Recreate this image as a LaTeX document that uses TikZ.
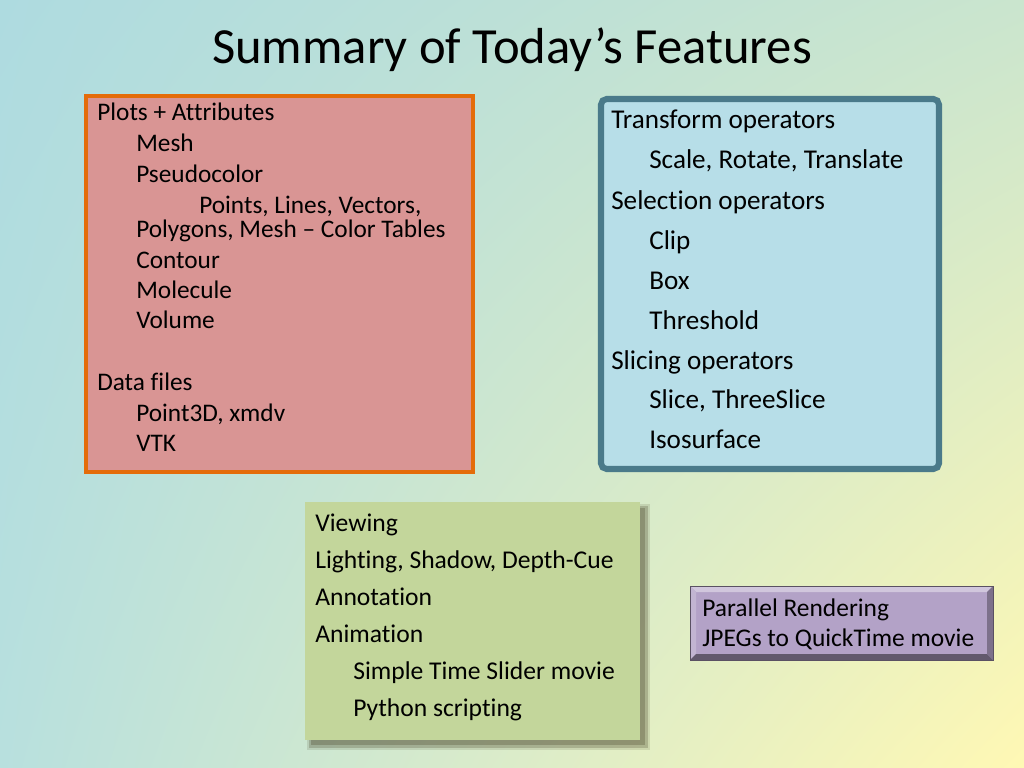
\documentclass[tikz,border=0pt]{standalone}
\usepackage{fontspec}
\setmainfont{Carlito}[Ligatures=NoCommon]
\usetikzlibrary{positioning,shadings}
\definecolor{bgTL}{RGB}{174,219,224}
\definecolor{bgTR}{RGB}{202,229,206}
\definecolor{bgBL}{RGB}{184,224,222}
\definecolor{bgBR}{RGB}{255,248,180}
\definecolor{redfill}{RGB}{217,149,148}
\definecolor{redline}{RGB}{228,108,10}
\definecolor{bluefill}{RGB}{183,222,232}
\definecolor{blueline}{RGB}{74,122,138}
\definecolor{greenfill}{RGB}{195,214,155}
\definecolor{purplefill}{RGB}{179,162,199}
\begin{document}
\begin{tikzpicture}[x=0.025cm,y=-0.025cm,
    redtxt/.style={anchor=base west,inner sep=0pt,font=\fontsize{18}{21}\selectfont},
    bluetxt/.style={anchor=base west,inner sep=0pt,font=\fontsize{19.3}{23}\selectfont},
    greentxt/.style={anchor=base west,inner sep=0pt,font=\fontsize{18.2}{22}\selectfont},
    purpletxt/.style={anchor=base west,inner sep=0pt,font=\fontsize{18.1}{22}\selectfont}]
    % background
    \shade[upper left=bgTL,upper right=bgTR,lower left=bgBL,lower right=bgBR] (0,0) rectangle (1024,768);
    \useasboundingbox (0,0) rectangle (1024,768);
    \node[anchor=base,inner sep=0pt,font=\fontsize{36}{40}\selectfont] (title) at (512,64) {Summary of Today’s Features};
    % plots box
    \draw[redline,line width=2.2pt,fill=redfill] (86,96) rectangle (473,472);
    \node[redtxt] (plots) at (97,121) {Plots + Attributes};
    \node[redtxt] (mesh) at (136,151) {Mesh};
    \node[redtxt] (pseudo) at (136,182) {Pseudocolor};
    \node[redtxt] (points) at (199,213) {Points, Lines, Vectors,};
    \node[redtxt] (polygons) at (136,237) {Polygons, Mesh – Color Tables};
    \node[redtxt] (contour) at (136,268) {Contour};
    \node[redtxt] (molecule) at (136,298) {Molecule};
    \node[redtxt] (volume) at (136,328) {Volume};
    \node[redtxt] (data) at (97,390) {Data files};
    \node[redtxt] (point3d) at (136,421) {Point3D, xmdv};
    \node[redtxt] (vtk) at (136,451) {VTK};
    % operators box
    \draw[blueline,line width=4.3pt,fill=bluefill,rounded corners=4pt] (601,99) rectangle (939,469);
    \node[bluetxt] (transform) at (611,129) {Transform operators};
    \node[bluetxt] (scale) at (649,169) {Scale, Rotate, Translate};
    \node[bluetxt] (selection) at (611,209) {Selection operators};
    \node[bluetxt] (clip) at (649,249) {Clip};
    \node[bluetxt] (box) at (649,289) {Box};
    \node[bluetxt] (threshold) at (649,329) {Threshold};
    \node[bluetxt] (slicing) at (611,369) {Slicing operators};
    \node[bluetxt] (slice) at (649,408) {Slice, ThreeSlice};
    \node[bluetxt] (iso) at (649,448) {Isosurface};
    % viewing box
    % \fill[black!60!olive,opacity=0.45] (311,508) rectangle (646,746);
    \fill[black!60!olive,opacity=0.15] (307,504) rectangle (650,750);
    \fill[black!60!olive,opacity=0.25] (309,506) rectangle (648,748);
    \fill[black!60!olive,opacity=0.3] (311,508) rectangle (645,745);
    \fill[greenfill] (305,502) rectangle (640,740);
    \node[greentxt] (viewing) at (315,531) {Viewing};
    \node[greentxt] (lighting) at (315,568) {Lighting, Shadow, Depth-Cue};
    \node[greentxt] (annotation) at (315,605) {Annotation};
    \node[greentxt] (animation) at (315,642) {Animation};
    \node[greentxt] (slider) at (353,679) {Simple Time Slider movie};
    \node[greentxt] (python) at (353,716) {Python scripting};
    % parallel box
    \fill[purplefill] (690,586) rectangle (993,660);
    \fill[purplefill!60!white] (690,586) -- (993,586) -- (987,592) -- (696,592) -- cycle;
    \fill[purplefill!80!white] (690,586) -- (696,592) -- (696,654) -- (690,660) -- cycle;
    \fill[purplefill!55!black] (690,660) -- (993,660) -- (987,654) -- (696,654) -- cycle;
    \fill[purplefill!70!black] (993,586) -- (993,660) -- (987,654) -- (987,592) -- cycle;
    \draw[purplefill!50!black,line width=0.4pt] (690,586) rectangle (993,660);
    \node[purpletxt] (parallel) at (702,616) {Parallel Rendering};
    \node[purpletxt] (jpegs) at (702,646) {JPEGs to QuickTime movie};
\end{tikzpicture}
\end{document}
